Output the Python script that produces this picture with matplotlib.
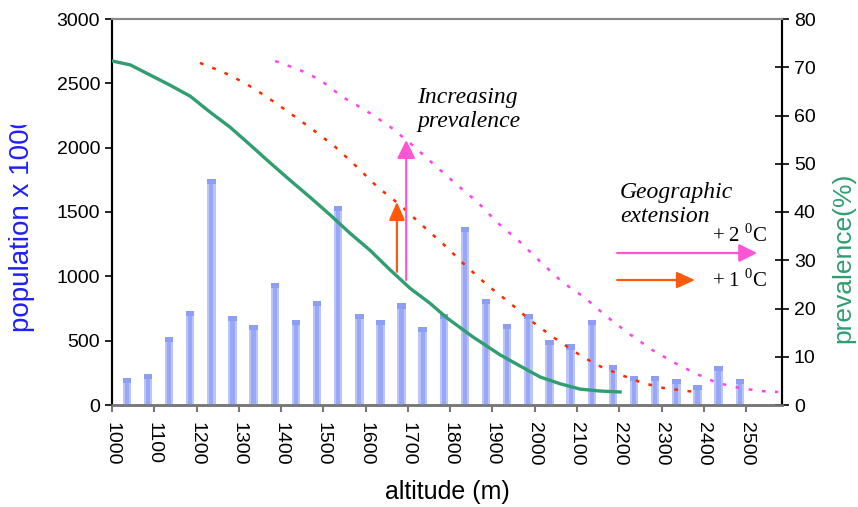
import matplotlib
matplotlib.use('Agg')
import matplotlib.pyplot as plt
from matplotlib.transforms import Bbox, TransformedBbox

plt.rcParams['font.family'] = ['Liberation Sans', 'DejaVu Sans']

# population per 50 m altitude band (x 1000)
bar_alt = [1035, 1085, 1135, 1185, 1235, 1285, 1335, 1385, 1435, 1485,
           1535, 1585, 1635, 1685, 1735, 1785, 1835, 1885, 1935, 1985,
           2035, 2085, 2135, 2185, 2235, 2285, 2335, 2385, 2435, 2485]
population = [208, 241, 526, 728, 1754, 692, 622, 946, 661, 808,
              1547, 705, 661, 790, 604, 705, 1381, 824, 630, 705,
              505, 471, 661, 311, 225, 225, 202, 155, 303, 202]

# current prevalence (%)
prev_alt = [1000, 1043, 1090, 1137, 1185, 1232, 1279, 1327, 1374, 1421,
            1468, 1516, 1563, 1610, 1658, 1705, 1752, 1793, 1854, 1918,
            1965, 2013, 2060, 2107, 2154, 2202]
prev_now = [71.3, 70.5, 68.4, 66.3, 64.0, 60.7, 57.6, 53.9, 50.2, 46.6,
            43.1, 39.4, 35.6, 32.1, 28.0, 24.2, 21.1, 18.0, 14.1, 10.4,
            8.1, 5.8, 4.4, 3.3, 2.9, 2.7]

# + 1 C scenario
p1_alt = [1208, 1263, 1315, 1367, 1421, 1473, 1528, 1580, 1629, 1681,
          1733, 1788, 1835, 1887, 1942, 1989, 2043, 2095, 2147, 2199,
          2254, 2306, 2360, 2384]
p1_val = [70.9, 69.0, 66.7, 63.8, 60.5, 57.2, 53.5, 49.3, 45.1, 41.5,
          37.3, 33.0, 29.0, 24.9, 21.1, 17.6, 14.1, 11.0, 8.3, 6.4,
          4.6, 3.5, 2.9, 2.7]

# + 2 C scenario
p2_alt = [1386, 1445, 1492, 1546, 1601, 1653, 1705, 1757, 1811, 1864,
          1913, 1965, 2013, 2065, 2119, 2171, 2221, 2278, 2332, 2379,
          2431, 2486, 2533, 2576]
p2_val = [71.3, 69.4, 67.4, 63.8, 61.0, 58.0, 54.3, 50.2, 46.0, 42.1,
          37.7, 33.8, 29.7, 25.5, 22.2, 18.3, 14.9, 11.4, 8.7, 6.6,
          4.6, 3.5, 2.9, 2.7]

xticks = list(range(1000, 2600, 100))

green = '#2f9e70'
red = '#ff2a00'
orange = '#ff5a0a'
magenta = '#ff44ee'
pink = '#ff55d5'

fig = plt.figure(figsize=(8.58, 5.07), dpi=100)
ax = fig.add_axes([112 / 858, 102 / 507, 670 / 858, 386 / 507])
ax2 = ax.twinx()

# bars: light outer, darker core, darker top cap
ax.bar(bar_alt, population, width=20, color='#bcc5fb', zorder=2)
ax.bar(bar_alt, population, width=10, color='#98a7f6', zorder=3)
caps = [40] * len(population)
ax.bar(bar_alt, caps, bottom=[p - 40 for p in population], width=20,
       color='#8e9ef4', zorder=4)

ax.set_xlim(1000, 2585)
ax.set_ylim(0, 3000)
ax.set_yticks(range(0, 3001, 500))
ax.set_xticks(xticks)
ax.set_xticklabels([str(t) for t in xticks], rotation=-90, va='top', ha='center')
ax.tick_params(axis='y', labelsize=14, length=5, width=1.2, direction='out')
ax.tick_params(axis='x', labelsize=14, length=5, width=1.5, direction='out',
               color='#777777', pad=7)

ax2.plot(prev_alt, prev_now, color=green, lw=2.4, zorder=5)
ax2.plot(p1_alt, p1_val, color=red, lw=1.8, ls=(0, (1.5, 3.8)))
ax2.plot(p2_alt, p2_val, color=magenta, lw=1.8, ls=(0, (1.5, 3.8)))
ax2.set_ylim(0, 80)
ax2.set_yticks(range(0, 81, 10))
ax2.tick_params(axis='y', labelsize=14, length=10, width=1.2, direction='inout')

for a in (ax, ax2):
    a.spines['top'].set_color('#888888')
    a.spines['bottom'].set_color('#777777')
    a.spines['top'].set_linewidth(1.5)
    a.spines['bottom'].set_linewidth(1.8)
    a.spines['left'].set_linewidth(1.5)
    a.spines['right'].set_linewidth(1.5)

ax.set_xlabel('altitude (m)', fontsize=18)
ax.xaxis.set_label_coords(0.5, -0.195)

# left label, clipped at the top like the original
ylab = fig.text(22 / 858, 1 - 332 / 507, 'population x 1000', rotation=90,
                ha='center', va='bottom', fontsize=20, color='#1f1fff')
ylab.set_clip_on(True)
ylab.set_clip_box(TransformedBbox(Bbox([[0, 0], [1, 1 - 125 / 507]]), fig.transFigure))

fig.text(843 / 858, 1 - 258 / 507, 'prevalence(%)', rotation=90, ha='center',
         va='center', fontsize=19, color=green)

# arrows
def arrow(x0, y0, x1, y1, col, hl, hw):
    ax2.annotate('', xy=(x1, y1), xytext=(x0, y0),
                 arrowprops=dict(arrowstyle='-|>,head_length=%s,head_width=%s' % (hl, hw),
                                 color=col, lw=1.6, shrinkA=0, shrinkB=0,
                                 mutation_scale=10))

arrow(1674, 27.6, 1674, 42.1, orange, 1.1, 0.48)
arrow(1696, 25.9, 1696, 54.9, pink, 1.1, 0.55)
arrow(2195, 31.5, 2526, 31.5, pink, 1.1, 0.55)
arrow(2195, 25.9, 2379, 25.9, orange, 1.1, 0.5)

serif = ['Liberation Serif', 'DejaVu Serif']
fig.text(417 / 858, 1 - 127 / 507, 'Increasing\nprevalence', family=serif,
         style='italic', fontsize=17, va='baseline', linespacing=1.2)
fig.text(620 / 858, 1 - 222 / 507, 'Geographic\nextension', family=serif,
         style='italic', fontsize=17, va='baseline', linespacing=1.2)
fig.text(768 / 858, 1 - 242 / 507, r'+ 2 $^{\mathregular{0}}$C', family=serif,
         fontsize=15, ha='right', va='baseline')
fig.text(768 / 858, 1 - 287 / 507, r'+ 1 $^{\mathregular{0}}$C', family=serif,
         fontsize=15, ha='right', va='baseline')

plt.savefig('out.png', dpi=100)
